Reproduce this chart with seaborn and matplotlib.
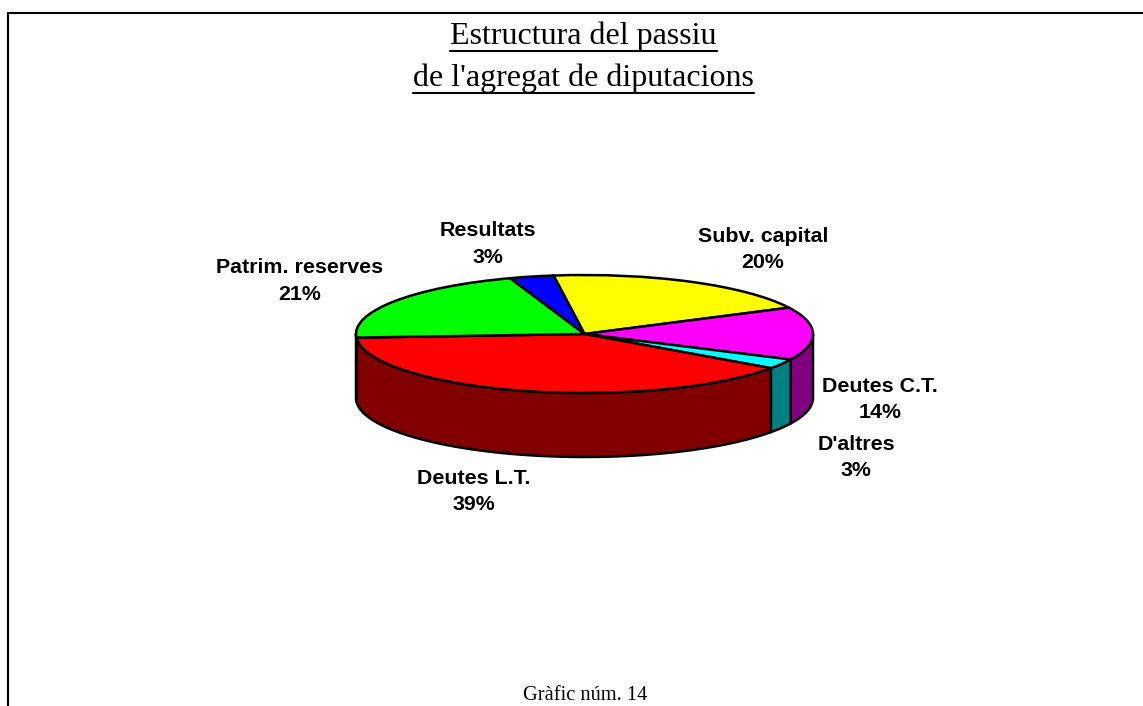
# plot.py
# Estructura del passiu - 3D style pie built on top of ax.pie

import numpy as np
import seaborn as sns
import matplotlib.pyplot as plt
from matplotlib.lines import Line2D

categories = ["Subv. capital", "Deutes C.T.", "D'altres", "Deutes L.T.", "Patrim. reserves", "Resultats"]
values = [19.8, 14.49, 2.7, 39.2, 20.7, 3.11]
top_colors = ["#FFFF00", "#FF00FF", "#00FFFF", "#FF0000", "#00FF00", "#0000FF"]
side_colors = ["#808000", "#800080", "#008080", "#800000", "#008000", "#000080"]
title_lines = ["Estructura del passiu", "de l'agregat de diputacions"]
footer = "Gràfic núm. 14"

W, H = 1143, 706
START_ANGLE = 97.8
DEPTH = 64 / 59  # wall height, in units of the vertical radius

# label centres in pixels (from the top left)
label_pos = {
    "Subv. capital": (763, 249.5),
    "Deutes C.T.": (880, 399.5),
    "D'altres": (856, 457.5),
    "Deutes L.T.": (474, 491.5),
    "Patrim. reserves": (300, 281),
    "Resultats": (488, 244),
}


def draw_walls(ax):
    """ Front side of the cake, one polygon for each slice that faces us """
    edges = START_ANGLE - np.cumsum([0] + values) * 3.6
    for i in range(len(values)):
        for turn in (0, 360):
            # keep only the part of the slice in the front half, -180..0
            hi = min(edges[i] + turn, 0)
            lo = max(edges[i + 1] + turn, -180)
            if hi <= lo:
                continue
            t = np.radians(np.linspace(lo, hi, 60))
            xs = np.concatenate([np.cos(t), np.cos(t[::-1])])
            ys = np.concatenate([np.sin(t), np.sin(t[::-1]) - DEPTH])
            ax.fill(xs, ys, facecolor=side_colors[i], edgecolor="black", linewidth=1.8,
                    joinstyle="round", zorder=1, clip_on=False)


def run_main():
    sns.set_theme(style="white")
    plt.rcParams["font.family"] = ["Liberation Sans", "DejaVu Sans"]

    fig = plt.figure(figsize=(W / 100, H / 100), dpi=100, facecolor="white")

    # axes box = bounding box of the top ellipse plus the wall
    left, right, top, bottom = 356, 813, 275, 457
    ax = fig.add_axes([left / W, 1 - bottom / H, (right - left) / W, (bottom - top) / H])
    wedges, _ = ax.pie(values, colors=top_colors, startangle=START_ANGLE, counterclock=False,
                       wedgeprops={"edgecolor": "black", "linewidth": 1.8, "zorder": 3, "clip_on": False})
    ax.set_aspect("auto")
    ax.set_xlim(-1, 1)
    ax.set_ylim(-1 - DEPTH, 1)
    draw_walls(ax)

    for name, val in zip(categories, values):
        x, y = label_pos[name]
        fig.text(x / W, 1 - y / H, f"{name}\n{round(val)}%", ha="center", va="center",
                 fontsize=15.4, fontweight="bold", color="black", linespacing=1.53)

    # title with underlines measured from the real text
    renderer = fig.canvas.get_renderer()
    for line, y in zip(title_lines, [35, 77]):
        txt = fig.text(583.5 / W, 1 - (y + 1.5) / H, line, ha="center", va="center",
                       family="Liberation Serif", fontsize=23, color="black")
        box = txt.get_window_extent(renderer)
        under_y = 1 - (y + 15.8) / H
        fig.add_artist(Line2D([box.x0 / W, box.x1 / W], [under_y, under_y], color="black",
                              linewidth=1.5, transform=fig.transFigure))

    fig.text(585 / W, 1 - 696 / H, footer, ha="center", va="center",
             family="Liberation Serif", fontsize=14.7, color="black")

    # frame: only left and top are in the picture
    frame_x, frame_y = 8 / W, 1 - 13 / H
    fig.add_artist(Line2D([frame_x, frame_x, 1], [0, frame_y, frame_y], color="black",
                          linewidth=1.5, solid_joinstyle="miter", transform=fig.transFigure))

    fig.savefig("out.png", dpi=100)


if __name__ == "__main__":
    run_main()
